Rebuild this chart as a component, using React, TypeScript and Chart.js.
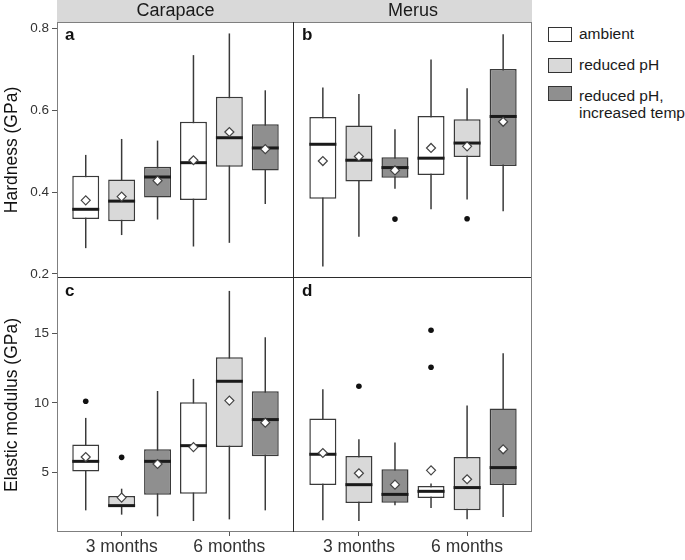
import React, { useEffect, useRef } from 'react';
import { Chart, registerables } from 'chart.js';
Chart.register(...registerables);

const FONT = '"Liberation Sans", Arial, Helvetica, sans-serif';

const groupLabels = ['3 months', '6 months'];
const treatments = ['ambient', 'reduced pH', 'reduced pH,\nincreased temp'];
const boxFills = ['#ffffff', '#d9d9d9', '#8f8f8f'];

// each box: [lower whisker, Q1, median, Q3, upper whisker, mean]
// order: 3m ambient, 3m reduced pH, 3m reduced pH+temp, 6m ambient, 6m reduced pH, 6m reduced pH+temp
const hardnessCarapace = [
  [0.263, 0.334, 0.358, 0.440, 0.491, 0.380],
  [0.295, 0.329, 0.378, 0.431, 0.530, 0.389],
  [0.333, 0.387, 0.437, 0.462, 0.526, 0.428],
  [0.267, 0.381, 0.472, 0.572, 0.735, 0.478],
  [0.276, 0.462, 0.533, 0.633, 0.788, 0.547],
  [0.371, 0.453, 0.508, 0.566, 0.649, 0.505],
];
const hardnessMerus = [
  [0.218, 0.384, 0.517, 0.584, 0.656, 0.476],
  [0.291, 0.426, 0.478, 0.563, 0.640, 0.487],
  [0.408, 0.435, 0.460, 0.485, 0.554, 0.453],
  [0.358, 0.442, 0.483, 0.586, 0.724, 0.508],
  [0.382, 0.486, 0.520, 0.578, 0.654, 0.512],
  [0.353, 0.464, 0.585, 0.701, 0.786, 0.572],
];
const modulusCarapace = [
  [2.26, 5.05, 5.79, 7.00, 8.92, 6.10],
  [1.95, 2.53, 2.60, 3.29, 3.82, 3.18],
  [1.83, 3.39, 5.79, 6.66, 10.86, 5.60],
  [1.49, 3.46, 6.92, 10.05, 11.73, 6.82],
  [1.61, 6.82, 11.56, 13.29, 18.07, 10.17],
  [2.26, 6.15, 8.80, 10.84, 14.73, 8.58],
];
const modulusMerus = [
  [1.54, 4.08, 6.30, 8.87, 10.98, 6.39],
  [1.49, 2.79, 4.11, 6.18, 7.38, 4.93],
  [2.62, 2.81, 3.41, 5.22, 7.14, 4.11],
  [2.43, 3.15, 3.63, 4.01, 4.19, 5.14],
  [1.61, 2.26, 3.90, 6.10, 9.81, 4.50],
  [1.78, 4.08, 5.34, 9.59, 13.58, 6.66],
];

// outliers: [box index, value]
const outliersHardnessCarapace: number[][] = [];
const outliersHardnessMerus = [[2, 0.334], [4, 0.335]];
const outliersModulusCarapace = [[0, 10.12], [1, 6.08]];
const outliersModulusMerus = [[1, 11.2], [3, 15.24], [3, 12.57]];

const hardnessTicks = [0.2, 0.4, 0.6, 0.8];
const modulusTicks = [5, 10, 15];
const hardnessRange = [0.19, 0.816];
const modulusRange = [0.7, 19.0];

const boxX = (i: number) => Math.floor(i / 3) + 1 + ((i % 3) - 1) / 3;

type Edges = { top: string | null; right: string | null; bottom: string | null; left: string | null };

type PanelProps = {
  left: number; top: number; width: number; height: number;
  stats: number[][]; outliers: number[][];
  range: number[]; yTicks: number[]; decimals: number;
  showY: boolean; yTitle: string; showX: boolean;
  strip: string | null; letter: string; edges: Edges;
};

const zeroPad = (s: any) => {
  s.paddingTop = 0;
  s.paddingBottom = 0;
  s.paddingLeft = 0;
  s.paddingRight = 0;
};

function Panel(p: PanelProps) {
  const ref = useRef<HTMLCanvasElement | null>(null);
  useEffect(() => {
    if (!ref.current) return;
    const decor = {
      id: 'boxDecor',
      beforeDatasetsDraw(chart: any) {
        const ctx = chart.ctx;
        const ys = chart.scales.y;
        ctx.save();
        ctx.strokeStyle = '#3a3a3a';
        ctx.lineWidth = 1.5;
        chart.data.datasets.forEach((ds: any, di: number) => {
          if (ds.type !== 'bar') return;
          const meta = chart.getDatasetMeta(di);
          meta.data.forEach((el: any, g: number) => {
            const b = p.stats[g * 3 + ds.tIndex];
            ctx.beginPath();
            ctx.moveTo(el.x, ys.getPixelForValue(b[0]));
            ctx.lineTo(el.x, ys.getPixelForValue(b[4]));
            ctx.stroke();
          });
        });
        ctx.restore();
      },
      afterDatasetDraw(chart: any, args: any) {
        const ds: any = chart.data.datasets[args.index];
        if (ds.type !== 'bar') return;
        const ctx = chart.ctx;
        const ys = chart.scales.y;
        ctx.save();
        ctx.strokeStyle = '#1a1a1a';
        ctx.lineWidth = 3;
        args.meta.data.forEach((el: any, g: number) => {
          const b = p.stats[g * 3 + ds.tIndex];
          const y = ys.getPixelForValue(b[2]);
          ctx.beginPath();
          ctx.moveTo(el.x - el.width / 2, y);
          ctx.lineTo(el.x + el.width / 2, y);
          ctx.stroke();
        });
        ctx.restore();
      },
      afterDraw(chart: any) {
        const ctx = chart.ctx;
        const { left, right, top, bottom } = chart.chartArea;
        ctx.save();
        if (p.strip) {
          ctx.fillStyle = '#d9d9d9';
          ctx.fillRect(left, 0, right - left, top);
          ctx.fillStyle = '#1a1a1a';
          ctx.font = `18px ${FONT}`;
          ctx.textAlign = 'center';
          ctx.textBaseline = 'middle';
          ctx.fillText(p.strip, (left + right) / 2, top / 2 + 0.5);
        }
        ctx.lineWidth = 1;
        const line = (c: string | null, x1: number, y1: number, x2: number, y2: number) => {
          if (!c) return;
          ctx.strokeStyle = c;
          ctx.beginPath();
          ctx.moveTo(x1, y1);
          ctx.lineTo(x2, y2);
          ctx.stroke();
        };
        const e = p.edges;
        line(e.top, left, top + 0.5, right, top + 0.5);
        line(e.bottom, left, bottom - 0.5, right, bottom - 0.5);
        line(e.left, left + 0.5, top, left + 0.5, bottom);
        line(e.right, right - 0.5, top, right - 0.5, bottom);
        ctx.fillStyle = '#111';
        ctx.font = `bold 17px ${FONT}`;
        ctx.textAlign = 'left';
        ctx.textBaseline = 'alphabetic';
        ctx.fillText(p.letter, left + 8, top + 17.5);
        ctx.restore();
      },
    };

    const barSets = treatments.map((t, ti) => ({
      type: 'bar',
      label: t,
      tIndex: ti,
      data: [0, 1].map((g) => {
        const b = p.stats[g * 3 + ti];
        return { x: g + 1, y: [b[1], b[3]] };
      }),
      backgroundColor: boxFills[ti],
      borderColor: '#3a3a3a',
      borderWidth: 1.5,
      borderSkipped: false,
      categoryPercentage: 1,
      barPercentage: 0.75,
      order: 3,
    }));
    const meanSet = {
      type: 'scatter',
      label: 'mean',
      data: p.stats.map((b, i) => ({ x: boxX(i), y: b[5] })),
      pointStyle: 'rectRot',
      pointRadius: 4.5,
      backgroundColor: '#ffffff',
      borderColor: '#444444',
      borderWidth: 1.2,
      order: 0,
    };
    const outSet = {
      type: 'scatter',
      label: 'outliers',
      data: p.outliers.map(([i, v]) => ({ x: boxX(i), y: v })),
      pointStyle: 'circle',
      pointRadius: 2.8,
      backgroundColor: '#111111',
      borderWidth: 0,
      order: 1,
    };

    const chart = new Chart(ref.current, {
      type: 'bar',
      data: { datasets: [...barSets, meanSet, outSet] as any },
      plugins: [decor as any],
      options: {
        responsive: false,
        animation: false,
        devicePixelRatio: 1,
        layout: { autoPadding: false, padding: { top: p.strip ? 22 : 0, left: 0, right: 0, bottom: 0 } },
        plugins: { legend: { display: false }, tooltip: { enabled: false }, title: { display: false } },
        scales: {
          x: {
            type: 'linear',
            min: 0.4,
            max: 2.6,
            offset: false,
            afterBuildTicks: (s: any) => { s.ticks = [1, 2].map((v) => ({ value: v })); },
            afterFit: (s: any) => { s.height = p.showX ? 28 : 0; zeroPad(s); },
            ticks: {
              display: p.showX,
              autoSkip: false,
              maxRotation: 0,
              padding: 1,
              color: '#333333',
              font: { family: FONT, size: 17.5 },
              callback: (v: any) => groupLabels[Math.round(Number(v)) - 1] ?? '',
            },
            grid: { display: p.showX, drawOnChartArea: false, drawTicks: true, tickLength: 4, color: '#555555', offset: false },
            border: { display: false },
          },
          y: {
            type: 'linear',
            display: p.showY,
            min: p.range[0],
            max: p.range[1],
            afterBuildTicks: (s: any) => { s.ticks = p.yTicks.map((v) => ({ value: v })); },
            afterFit: (s: any) => { s.width = p.showY ? 57 : 0; zeroPad(s); },
            ticks: {
              padding: 3,
              color: '#333333',
              font: { family: FONT, size: 13.5 },
              callback: (v: any) => Number(v).toFixed(p.decimals),
            },
            grid: { drawOnChartArea: false, drawTicks: true, tickLength: 5, color: '#555555' },
            border: { display: false },
            title: {
              display: true,
              text: p.yTitle,
              color: '#111111',
              font: { family: FONT, size: 17.5 },
              padding: { top: 1.5, bottom: 0 },
            },
          },
        },
      } as any,
    });
    return () => chart.destroy();
  }, []);
  return (
    <canvas
      ref={ref}
      width={p.width}
      height={p.height}
      style={{ position: 'absolute', left: p.left, top: p.top, width: p.width, height: p.height }}
    />
  );
}

const GREY = '#7f7f7f';
const DARK = '#2b2b2b';

export default function App() {
  const legendKeys = [
    { top: 27, label: 'ambient', textTop: 24.5 },
    { top: 58, label: 'reduced pH', textTop: 56.2 },
    { top: 86, label: 'reduced pH,\nincreased temp', textTop: 86.9 },
  ];
  return (
    <div style={{ position: 'absolute', left: 0, top: 0, width: 685, height: 560, background: '#fff', overflow: 'hidden' }}>
      <Panel left={0} top={0} width={294} height={278} stats={hardnessCarapace} outliers={outliersHardnessCarapace}
        range={hardnessRange} yTicks={hardnessTicks} decimals={1} showY yTitle="Hardness (GPa)" showX={false}
        strip="Carapace" letter="a" edges={{ top: GREY, left: GREY, right: DARK, bottom: DARK }} />
      <Panel left={294} top={0} width={238} height={278} stats={hardnessMerus} outliers={outliersHardnessMerus}
        range={hardnessRange} yTicks={hardnessTicks} decimals={1} showY={false} yTitle="" showX={false}
        strip="Merus" letter="b" edges={{ top: GREY, left: null, right: GREY, bottom: DARK }} />
      <Panel left={0} top={278} width={294} height={282} stats={modulusCarapace} outliers={outliersModulusCarapace}
        range={modulusRange} yTicks={modulusTicks} decimals={0} showY yTitle="Elastic modulus (GPa)" showX
        strip={null} letter="c" edges={{ top: null, left: GREY, right: DARK, bottom: GREY }} />
      <Panel left={294} top={278} width={238} height={282} stats={modulusMerus} outliers={outliersModulusMerus}
        range={modulusRange} yTicks={modulusTicks} decimals={0} showY={false} yTitle="" showX
        strip={null} letter="d" edges={{ top: null, left: null, right: GREY, bottom: GREY }} />
      {legendKeys.map((k, i) => (
        <React.Fragment key={k.label}>
          <div style={{ position: 'absolute', left: 548, top: k.top, width: 24, height: 15, boxSizing: 'border-box',
            border: '1.5px solid #333', background: boxFills[i] }} />
          <div style={{ position: 'absolute', left: 579, top: k.textTop, fontFamily: FONT, fontSize: 15.5,
            lineHeight: '17.6px', color: '#1a1a1a', whiteSpace: 'pre' }}>{k.label}</div>
        </React.Fragment>
      ))}
    </div>
  );
}
